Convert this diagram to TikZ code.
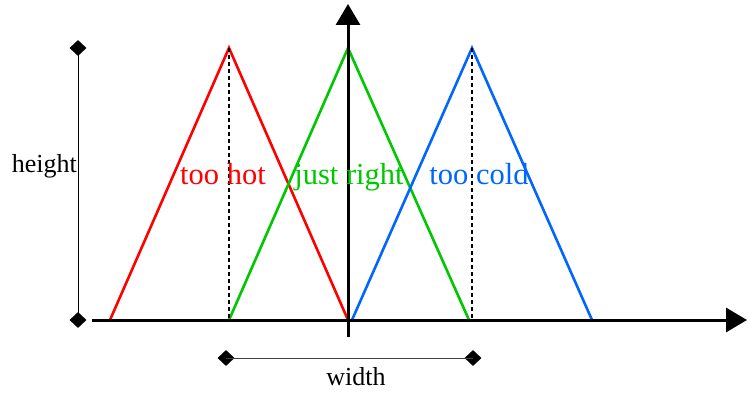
\documentclass[tikz,border=0pt]{standalone}
\usepackage{fontspec}
\setmainfont{Liberation Serif}
\usetikzlibrary{arrows.meta,shapes.geometric}
\definecolor{hotred}{RGB}{255,0,0}
\definecolor{rightgreen}{RGB}{0,200,0}
\definecolor{coldblue}{RGB}{0,102,255}
\begin{document}
\begin{tikzpicture}[x=1pt,y=-1pt,
  axis/.style={line width=3pt,-{Triangle[length=21pt,width=24pt]}},
  tri/.style={line width=2.6pt,line join=miter},
  peakline/.style={line width=1.5pt,dash pattern=on 4pt off 3pt},
  dimline/.style={line width=1pt},
  dimtip/.style={diamond,fill=black,inner sep=0pt,minimum width=17pt,minimum height=16pt},
  biglabel/.style={font=\fontsize{30.5}{31}\selectfont,inner sep=0pt,anchor=base},
  smalllabel/.style={font=\fontsize{26}{27}\selectfont,inner sep=0pt}]
\useasboundingbox (0,0) rectangle (747,393);
% coordinates
\coordinate (xs) at (92,320);
\coordinate (xe) at (747,320);
\coordinate (ys) at (348,337);
\coordinate (ye) at (348,4);
\coordinate (r1) at (110,320);
\coordinate (r2) at (229,48);
\coordinate (r3) at (348,320);
\coordinate (g1) at (229,320);
\coordinate (g2) at (348,48);
\coordinate (g3) at (469,320);
\coordinate (b1) at (352,320);
\coordinate (b2) at (472,48);
\coordinate (b3) at (592,320);
\coordinate (rb) at (229,320);
\coordinate (bb) at (472,320);
% triangles
\draw[tri,hotred] (r1) -- (r2) -- (r3);
\draw[tri,rightgreen] (g1) -- (g2) -- (g3);
\draw[tri,coldblue] (b1) -- (b2) -- (b3);
% dashed peak lines
\draw[peakline] (r2) -- (rb);
\draw[peakline] (b2) -- (bb);
% axes
\draw[axis] (xs) -- (xe);
\draw[axis] (ys) -- (ye);
% height dimension
\node[dimtip] (ht) at (78,48) {};
\node[dimtip] (hb) at (78,320) {};
\draw[dimline] (ht.center) -- (hb.center);
\node[smalllabel,anchor=base east] (hl) at (77,172) {height};
% width dimension
\node[dimtip] (wl) at (226,358) {};
\node[dimtip] (wr) at (473,358) {};
\draw[dimline,black!75] (wl.center) -- (wr.center);
\node[smalllabel,anchor=base] (wt) at (356,385) {width};
% labels
\node[biglabel,text=hotred] (hot) at (223,184) {too hot};
\node[biglabel,text=rightgreen] (right) at (349,184) {just right};
\node[biglabel,text=coldblue] (cold) at (479,184) {too cold};
\end{tikzpicture}
\end{document}
